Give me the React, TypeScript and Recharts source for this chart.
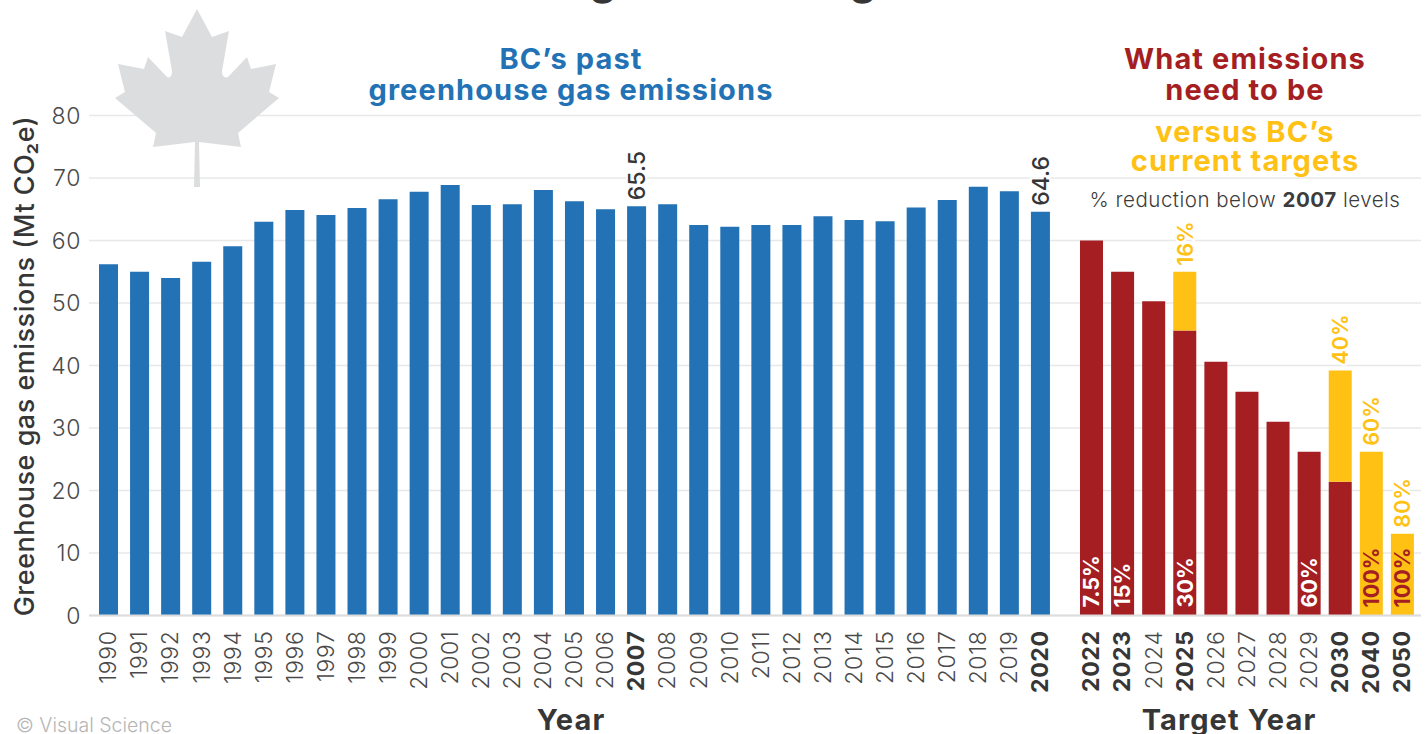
import { BarChart, Bar, XAxis, YAxis, CartesianGrid, LabelList } from 'recharts';

const pastYears = ['1990','1991','1992','1993','1994','1995','1996','1997','1998','1999','2000','2001','2002','2003','2004','2005','2006','2007','2008','2009','2010','2011','2012','2013','2014','2015','2016','2017','2018','2019','2020'];
const pastValues = [56.2,55,54,56.6,59.1,63,64.9,64.1,65.2,66.6,67.8,68.9,65.7,65.8,68.1,66.3,65,65.5,65.8,62.5,62.2,62.5,62.5,63.9,63.3,63.1,65.3,66.5,68.6,67.9,64.6];
const pastLabelYears = ['2007','2020'];

const targetYears = ['2022','2023','2024','2025','2026','2027','2028','2029','2030','2040','2050'];
const needValues = [60,55,50.3,45.6,40.6,35.8,31,26.2,21.4,0,0];
const gapValues = [0,0,0,9.4,0,0,0,0,17.8,26.2,13.1];
const needLabels = ['7.5%','15%',null,'30%',null,null,null,'60%',null,null,null];
const fullCutLabels = [null,null,null,null,null,null,null,null,null,'100%','100%'];
const targetLabels = [null,null,null,'16%',null,null,null,null,'40%','60%','80%'];
const boldTargetYears = ['2022','2023','2025','2030','2040','2050'];

const yTicks = [0,10,20,30,40,50,60,70,80];

const BLUE = '#2272b5';
const RED = '#a41e22';
const YELLOW = '#ffc114';
const DARK = '#363636';
const FONT = 'Inter, "Open Sans", sans-serif';

const pastData = pastYears.map((year, i) => ({
  year,
  value: pastValues[i],
  label: pastLabelYears.includes(year) ? String(pastValues[i]) : null,
}));
const targetData = targetYears.map((year, i) => ({
  year,
  need: needValues[i],
  gap: gapValues[i],
  needLabel: needLabels[i],
  fullCutLabel: fullCutLabels[i],
  targetLabel: targetLabels[i],
}));

function YearTick({ x, y, payload, bold }: any) {
  const isBold = bold.includes(payload.value);
  return (
    <text
      transform={`translate(${x - 0.5},${y + 7}) rotate(-90)`}
      textAnchor="end"
      dy="0.36em"
      fontFamily={FONT}
      fontSize={23}
      letterSpacing={0.6}
      fontWeight={isBold ? 700 : 300}
      fill={isBold ? DARK : '#4a4a4a'}
    >
      {payload.value}
    </text>
  );
}

function rotated(props: any, fill: string, mode: 'above' | 'inside', weight: number, halo: boolean, size = 21.5) {
  const { value } = props;
  if (value === null || value === undefined) return null;
  const box = props.viewBox ?? props;
  const cx = box.x + box.width / 2;
  const py = mode === 'above' ? box.y - 6 : box.y + box.height - 8;
  return (
    <text
      transform={`translate(${cx},${py}) rotate(-90)`}
      textAnchor="start"
      dy="0.36em"
      fontFamily={FONT}
      fontSize={size}
      fontWeight={weight}
      fill={fill}
      stroke={halo ? '#fff' : 'none'}
      strokeWidth={halo ? 4 : 0}
      paintOrder="stroke"
    >
      {value}
    </text>
  );
}

const centerLine = (text: string, x: number, y: number, fill: string, size = 29, spacing = 1.1) => (
  <text x={x} y={y} textAnchor="middle" fontFamily={FONT} fontSize={size} letterSpacing={spacing} fontWeight={700} fill={fill}>
    {text}
  </text>
);

export default function App() {
  return (
    <div style={{ position: 'fixed', left: 0, top: 0, width: 1426, height: 734, overflow: 'hidden', background: '#fff' }}>
      <div style={{ position: 'absolute', left: 0, top: 0 }}>
        <BarChart width={1056} height={734} data={pastData} margin={{ top: 115.5, right: 0, bottom: 0, left: 0 }} barSize={19}>
          <CartesianGrid vertical={false} stroke="#e8e8e8" strokeWidth={1.6} />
          <XAxis
            dataKey="year"
            height={118.5}
            interval={0}
            padding={{ left: 4, right: 0 }}
            axisLine={{ stroke: '#dcdcdc', strokeWidth: 2 }}
            tickLine={false}
            tick={<YearTick bold={pastLabelYears} />}
          />
          <YAxis
            width={89}
            domain={[0, 80]}
            ticks={yTicks}
            interval={0}
            axisLine={false}
            tickLine={false}
            tick={{ fontFamily: FONT, fontSize: 23, letterSpacing: 0.6, fontWeight: 300, fill: '#4a4a4a' }}
          />
          <Bar dataKey="value" fill={BLUE} isAnimationActive={false}>
            <LabelList dataKey="label" content={(p: any) => rotated(p, DARK, 'above', 500, true, 23)} />
          </Bar>
        </BarChart>
      </div>
      <div style={{ position: 'absolute', left: 1056, top: 0 }}>
        <BarChart width={370} height={734} data={targetData} margin={{ top: 115.5, right: 5, bottom: 0, left: 0 }} barSize={23}>
          <CartesianGrid vertical={false} stroke="#e8e8e8" strokeWidth={1.6} />
          <XAxis
            dataKey="year"
            height={118.5}
            interval={0}
            padding={{ left: 20, right: 3 }}
            axisLine={{ stroke: '#dcdcdc', strokeWidth: 2 }}
            tickLine={false}
            tick={<YearTick bold={boldTargetYears} />}
          />
          <YAxis hide domain={[0, 80]} ticks={yTicks} />
          <Bar dataKey="need" stackId="a" fill={RED} isAnimationActive={false}>
            <LabelList dataKey="needLabel" content={(p: any) => rotated(p, '#fff', 'inside', 700, false)} />
          </Bar>
          <Bar dataKey="gap" stackId="a" fill={YELLOW} isAnimationActive={false}>
            <LabelList dataKey="fullCutLabel" content={(p: any) => rotated(p, RED, 'inside', 700, false)} />
            <LabelList dataKey="targetLabel" content={(p: any) => rotated(p, YELLOW, 'above', 600, true)} />
          </Bar>
        </BarChart>
      </div>
      <svg width={1426} height={734} style={{ position: 'absolute', left: 0, top: 0, pointerEvents: 'none' }}>
        <path
          d="M197 9 L212 37 L229 31 L222 71 Q222 79 228 77 L247 57 L251 69 L276 64 L269 92 L279 98 L238 133 L241 147 L199 142 L200 187 L194 187 L195 142 L153 147 L156 133 L115 98 L125 92 L118 64 L144 69 L148 57 L167 77 Q172 79 172 71 L165 31 L182 37 Z"
          fill="#dcddde"
        />
        {centerLine('g', 603, -6, DARK, 44, 0)}
        {centerLine('g', 863, -6, DARK, 44, 0)}
        {centerLine('BC’s past', 571, 69, BLUE)}
        {centerLine('greenhouse gas emissions', 571, 100, BLUE)}
        {centerLine('What emissions', 1245, 69, RED)}
        {centerLine('need to be', 1245, 99.5, RED)}
        {centerLine('versus BC’s', 1245, 142, YELLOW)}
        {centerLine('current targets', 1245, 171, YELLOW)}
        <text x={1245} y={207} textAnchor="middle" fontFamily={FONT} fontSize={20.5} letterSpacing={0.5} fontWeight={300} fill="#3c3c3c">
          % reduction below <tspan fontWeight={700}>2007</tspan> levels
        </text>
        <text
          transform="translate(34,366) rotate(-90)"
          textAnchor="middle"
          fontFamily={FONT}
          fontSize={27}
          letterSpacing={0.5}
          fontWeight={500}
          fill={DARK}
        >
          Greenhouse gas emissions (Mt CO₂e)
        </text>
        {centerLine('Year', 571, 730, DARK)}
        {centerLine('Target Year', 1229, 730, DARK)}
        <text x={16} y={732} fontFamily={FONT} fontSize={19.5} fontWeight={300} fill="#b5b5b5">
          © Visual Science
        </text>
      </svg>
    </div>
  );
}
